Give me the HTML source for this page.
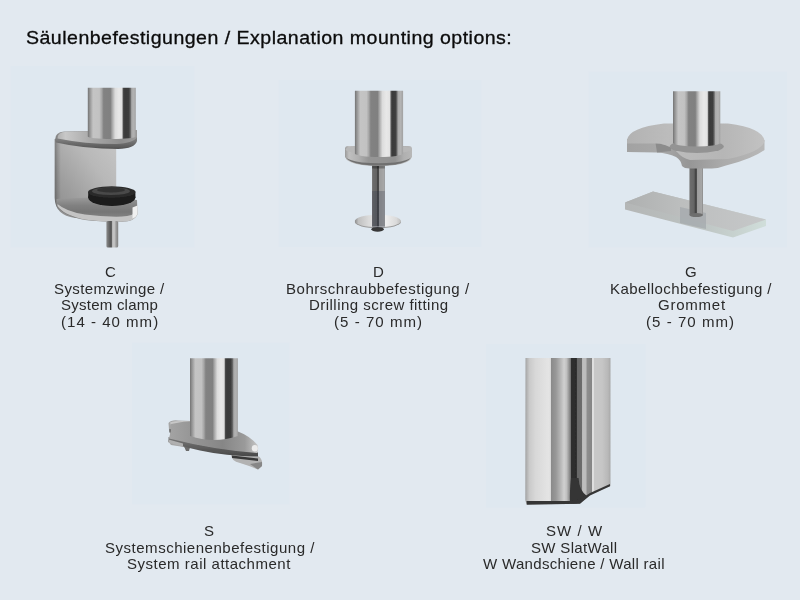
<!DOCTYPE html>
<html><head><meta charset="utf-8"><title>Säulenbefestigungen</title>
<style>
html,body{margin:0;padding:0}
body{width:800px;height:600px;background:#e2e9f0;position:relative;overflow:hidden;font-family:"Liberation Sans",sans-serif;color:#111}
.t{position:absolute;white-space:pre;line-height:20px;transform-origin:0 0}
.h{transform:scaleX(1.10);font-size:17.8px;color:#0b0b0b;-webkit-text-stroke:0.3px #0b0b0b}
.c{transform:scaleX(1.06);font-size:14.2px;color:#2a2a2a}
#art{position:absolute;left:0;top:0}
</style></head><body>
<svg id="art" width="800" height="600" viewBox="0 0 800 600">
<defs>
<filter id="soft" x="-5%" y="-5%" width="110%" height="110%"><feGaussianBlur stdDeviation="0.7"/></filter>
<filter id="soft2" x="-10%" y="-10%" width="120%" height="120%"><feGaussianBlur stdDeviation="4"/></filter>
<linearGradient id="pole" x1="0" x2="1" y1="0" y2="0">
 <stop offset="0" stop-color="#727272"/>
 <stop offset="0.03" stop-color="#8c8c8c"/>
 <stop offset="0.07" stop-color="#a8a8a8"/>
 <stop offset="0.11" stop-color="#c4c4c4"/>
 <stop offset="0.24" stop-color="#c2c2c2"/>
 <stop offset="0.29" stop-color="#a6a6a6"/>
 <stop offset="0.33" stop-color="#828282"/>
 <stop offset="0.47" stop-color="#808080"/>
 <stop offset="0.51" stop-color="#a8a8a8"/>
 <stop offset="0.57" stop-color="#dcdcdc"/>
 <stop offset="0.65" stop-color="#e8e8e8"/>
 <stop offset="0.715" stop-color="#e0e0e0"/>
 <stop offset="0.735" stop-color="#4c4c4c"/>
 <stop offset="0.77" stop-color="#3a3a3a"/>
 <stop offset="0.85" stop-color="#3c3c3c"/>
 <stop offset="0.885" stop-color="#606060"/>
 <stop offset="0.915" stop-color="#aaaaaa"/>
 <stop offset="0.96" stop-color="#b2b2b2"/>
 <stop offset="1" stop-color="#a0a0a0"/>
</linearGradient>
<linearGradient id="cback" x1="1" y1="0" x2="0" y2="1">
 <stop offset="0" stop-color="#c6c6c6"/><stop offset="0.35" stop-color="#b8b8b8"/><stop offset="0.7" stop-color="#9e9e9e"/><stop offset="1" stop-color="#8a8a8a"/>
</linearGradient>
<linearGradient id="ctop" x1="0" x2="1" y1="0" y2="0">
 <stop offset="0" stop-color="#b0b0b0"/><stop offset="0.1" stop-color="#c8c8c8"/><stop offset="0.4" stop-color="#ababab"/><stop offset="0.8" stop-color="#8e8e8e"/><stop offset="1" stop-color="#9a9a9a"/>
</linearGradient>
<linearGradient id="ctopedge" x1="0" x2="0" y1="0" y2="1">
 <stop offset="0" stop-color="#9a9a9a"/><stop offset="0.55" stop-color="#7a7a7a"/><stop offset="1" stop-color="#525252"/>
</linearGradient>
<linearGradient id="cbackv" x1="0" x2="1" y1="0" y2="0">
 <stop offset="0" stop-color="#000" stop-opacity="0.28"/><stop offset="0.05" stop-color="#000" stop-opacity="0.12"/><stop offset="0.1" stop-color="#000" stop-opacity="0"/><stop offset="1" stop-color="#000" stop-opacity="0"/>
</linearGradient>
<linearGradient id="bolt" x1="0" x2="1" y1="0" y2="0">
 <stop offset="0" stop-color="#8c8c8c"/><stop offset="0.28" stop-color="#606060"/><stop offset="0.42" stop-color="#505050"/><stop offset="0.5" stop-color="#b4b4b4"/><stop offset="0.65" stop-color="#cacaca"/><stop offset="0.82" stop-color="#9c9c9c"/><stop offset="1" stop-color="#7e7e7e"/>
</linearGradient>

<linearGradient id="poleD" x1="0" x2="1" y1="0" y2="0">
 <stop offset="0" stop-color="#727272"/>
 <stop offset="0.03" stop-color="#8c8c8c"/>
 <stop offset="0.07" stop-color="#a8a8a8"/>
 <stop offset="0.11" stop-color="#c4c4c4"/>
 <stop offset="0.24" stop-color="#c2c2c2"/>
 <stop offset="0.29" stop-color="#a6a6a6"/>
 <stop offset="0.33" stop-color="#828282"/>
 <stop offset="0.47" stop-color="#808080"/>
 <stop offset="0.51" stop-color="#a8a8a8"/>
 <stop offset="0.57" stop-color="#dcdcdc"/>
 <stop offset="0.65" stop-color="#e8e8e8"/>
 <stop offset="0.725" stop-color="#e2e2e2"/>
 <stop offset="0.75" stop-color="#585858"/>
 <stop offset="0.775" stop-color="#3a3a3a"/>
 <stop offset="0.84" stop-color="#3e3e3e"/>
 <stop offset="0.87" stop-color="#666"/>
 <stop offset="0.895" stop-color="#aaaaaa"/>
 <stop offset="0.95" stop-color="#b4b4b4"/>
 <stop offset="1" stop-color="#a0a0a0"/>
</linearGradient>
<linearGradient id="flange" x1="0" x2="1" y1="0" y2="0">
 <stop offset="0" stop-color="#9a9a9a"/><stop offset="0.06" stop-color="#c0c0c0"/><stop offset="0.2" stop-color="#b0b0b0"/><stop offset="0.35" stop-color="#969696"/><stop offset="0.75" stop-color="#929292"/><stop offset="0.88" stop-color="#b0b0b0"/><stop offset="1" stop-color="#b8b8b8"/>
</linearGradient>
<linearGradient id="rod" x1="0" x2="1" y1="0" y2="0">
 <stop offset="0" stop-color="#7c7c7c"/><stop offset="0.08" stop-color="#6c6c6c"/><stop offset="0.35" stop-color="#646464"/><stop offset="0.43" stop-color="#444"/><stop offset="0.52" stop-color="#4a4a4a"/><stop offset="0.57" stop-color="#9c9c9c"/><stop offset="0.9" stop-color="#a6a6a6"/><stop offset="1" stop-color="#888"/>
</linearGradient>
<linearGradient id="washer" x1="0" x2="1" y1="0" y2="0">
 <stop offset="0" stop-color="#8a8a8a"/><stop offset="0.08" stop-color="#c0c0c0"/><stop offset="0.3" stop-color="#dadada"/><stop offset="0.65" stop-color="#f0f0f0"/><stop offset="0.9" stop-color="#dadada"/><stop offset="1" stop-color="#bcbcbc"/>
</linearGradient>
<linearGradient id="disc" x1="0" x2="1" y1="0" y2="0">
 <stop offset="0" stop-color="#b2b2b2"/><stop offset="0.3" stop-color="#bcbcbc"/><stop offset="0.7" stop-color="#b6b6b6"/><stop offset="1" stop-color="#c2c2c2"/>
</linearGradient>
<linearGradient id="base" x1="0" x2="1" y1="0" y2="0">
 <stop offset="0" stop-color="#aeb0b0"/><stop offset="0.4" stop-color="#bcbebe"/><stop offset="1" stop-color="#c6c8c9"/>
</linearGradient>
<linearGradient id="wall" x1="0" x2="1" y1="0" y2="0">
 <stop offset="0" stop-color="#a0a0a0"/>
 <stop offset="0.02" stop-color="#b4b4b4"/>
 <stop offset="0.05" stop-color="#cacaca"/>
 <stop offset="0.12" stop-color="#d8d8d8"/>
 <stop offset="0.27" stop-color="#e4e4e4"/>
 <stop offset="0.295" stop-color="#e0e0e0"/>
 <stop offset="0.305" stop-color="#8a8a8a"/>
 <stop offset="0.36" stop-color="#989898"/>
 <stop offset="0.41" stop-color="#b4b4b4"/>
 <stop offset="0.455" stop-color="#d0d0d0"/>
 <stop offset="0.485" stop-color="#c0c0c0"/>
 <stop offset="0.51" stop-color="#9a9a9a"/>
 <stop offset="0.53" stop-color="#7c7c7c"/>
 <stop offset="0.54" stop-color="#2e2e2e"/>
 <stop offset="0.6" stop-color="#2c2c2c"/>
 <stop offset="0.61" stop-color="#686868"/>
 <stop offset="0.66" stop-color="#6c6c6c"/>
 <stop offset="0.672" stop-color="#bebebe"/>
 <stop offset="0.712" stop-color="#bcbcbc"/>
 <stop offset="0.725" stop-color="#8e8e8e"/>
 <stop offset="0.78" stop-color="#858585"/>
 <stop offset="0.787" stop-color="#dedede"/>
 <stop offset="0.8" stop-color="#e0e0e0"/>
 <stop offset="0.812" stop-color="#c8c8c8"/>
 <stop offset="0.9" stop-color="#c6c6c6"/>
 <stop offset="0.97" stop-color="#b8b8b8"/>
 <stop offset="1" stop-color="#a8a8a8"/>
</linearGradient>
<linearGradient id="discside" x1="0" x2="1" y1="0" y2="0">
 <stop offset="0" stop-color="#a2a2a2"/><stop offset="0.25" stop-color="#a8a8a8"/><stop offset="0.45" stop-color="#969696"/><stop offset="0.7" stop-color="#ababab"/><stop offset="1" stop-color="#b8b8b8"/>
</linearGradient>
<linearGradient id="sside" x1="0" x2="0" y1="0" y2="1">
 <stop offset="0" stop-color="#7a7a7a"/><stop offset="0.5" stop-color="#606060"/><stop offset="1" stop-color="#484848"/>
</linearGradient>
<linearGradient id="stop" x1="0" x2="1" y1="0" y2="0">
 <stop offset="0" stop-color="#a4a4a4"/><stop offset="0.25" stop-color="#969696"/><stop offset="0.6" stop-color="#868686"/><stop offset="0.85" stop-color="#9a9a9a"/><stop offset="1" stop-color="#c8c8c8"/>
</linearGradient>
<linearGradient id="basefront" x1="0" x2="1" y1="0" y2="0">
 <stop offset="0" stop-color="#b4b6b6"/><stop offset="0.5" stop-color="#bcc2c1"/><stop offset="1" stop-color="#d0deda"/>
</linearGradient>
<linearGradient id="clow" x1="0" x2="0" y1="0" y2="1">
 <stop offset="0" stop-color="#9c9c9c"/><stop offset="0.35" stop-color="#808080"/><stop offset="0.6" stop-color="#767676"/><stop offset="1" stop-color="#8a8a8a"/>
</linearGradient>
</defs>
<!-- background panels -->
<g filter="url(#soft)" fill="#dfe8f0">
 <rect x="10.5" y="66" width="184" height="181.5"/>
 <rect x="278.5" y="80" width="203" height="167"/>
 <rect x="588.5" y="71.5" width="198.5" height="176"/>
 <rect x="132" y="342.5" width="157.5" height="162"/>
 <rect x="486" y="344" width="159.6" height="163.6"/>
</g>
<!-- C : system clamp -->
<g filter="url(#soft)">
 <!-- back plate -->
 <path d="M54.7,139 L116.2,139 L116.2,206 L75,218 Q55,215 54.7,198 Z" fill="url(#cback)"/>
 <path d="M54.7,139 L116.2,139 L116.2,206 L75,218 Q55,215 54.7,198 Z" fill="url(#cbackv)"/>
 <!-- lower plate -->
 <path d="M56.5,199 Q80,197.5 116,197 L137,200 L137.5,214 Q135,221.5 122,221.8 Q100,222 85,220 Q64,216 57.5,207 Q56,203 56.5,199 Z" fill="url(#clow)"/>
 <path d="M57.5,206 Q63,214.5 84,219.5 Q104,222.2 124,221.6 Q134,221 137.3,215 L137.3,211 Q133,216 122,216.6 Q102,217 85,214.6 Q66,211.5 57.5,204 Z" fill="#c4c4c4"/>
 <path d="M132.5,207.5 L137.5,205.5 L137.5,214 Q136,217.5 132.5,218.5 Z" fill="#f0f0f0"/>
 <!-- knob -->
 <ellipse cx="111.8" cy="197.5" rx="23.6" ry="8.4" fill="#1c1c1c"/>
 <rect x="88.2" y="191.5" width="47.2" height="6.5" fill="#1c1c1c"/>
 <ellipse cx="111.8" cy="192" rx="23.6" ry="5.8" fill="#2c2c2c"/>
 <ellipse cx="111" cy="191.2" rx="19" ry="3.8" fill="#484848"/>
 <ellipse cx="111" cy="190" rx="14" ry="2.4" fill="#333"/>
 <!-- bolt -->
 <rect x="106.4" y="221" width="11.8" height="26.4" rx="1.5" fill="url(#bolt)"/>
 <!-- top plate -->
 <path d="M55,140 Q55,132 64,131.5 L137,130 L137,141 Q135,148.5 118,149 Q85,149 56,142.5 Z" fill="url(#ctopedge)"/>
 <path d="M57.5,138 Q57.5,132.3 66,131.7 L137,130 L137,137 Q134,143 116,144 Q85,144 57.5,138.5 Z" fill="url(#ctop)"/>
 <!-- pole -->
 <path d="M87.8,87.8 L135.8,87.8 L135.8,136.5 A24,2.5 0 0 1 87.8,136.5 Z" fill="url(#pole)"/>
</g>
<!-- D : drilling screw fitting -->
<g filter="url(#soft)">
 <!-- washer -->
 <ellipse cx="377.9" cy="222" rx="23.1" ry="6.2" fill="#9a9a9a"/>
 <ellipse cx="377.9" cy="221" rx="23.1" ry="6.2" fill="url(#washer)"/>
 <!-- nut -->
 <ellipse cx="377.6" cy="229.3" rx="6.2" ry="2.4" fill="#383838"/>
 <!-- rod -->
 <rect x="372" y="160" width="12.8" height="66.5" fill="url(#rod)"/>
 <rect x="372" y="191" width="12.8" height="36.5" fill="#2a3248" opacity="0.25"/>
 <rect x="372" y="165" width="12.8" height="3.5" fill="#000" opacity="0.3"/>
 <!-- flange -->
 <path d="M345,149 Q345,146 348,146 L409,146 Q412,146 412,149 L412,157 Q410,163 395,165 Q378.5,167 362,165 Q347,163 345,157 Z" fill="url(#flange)"/>
 <path d="M346,157.5 Q349,162.5 362,164.6 Q378.5,166.6 395,164.6 Q408,162.5 411,157.5 Q408,160.5 395,162.5 Q378.5,164 362,162.5 Q349,160.5 346,157.5 Z" fill="#707070"/>
 <ellipse cx="378.5" cy="149.6" rx="33" ry="4.6" fill="#b8b8b8"/>
 <!-- pole -->
 <path d="M354.9,90.8 L403.1,90.8 L403.1,153.5 A24.1,3.5 0 0 1 354.9,153.5 Z" fill="url(#poleD)"/>
</g>
<!-- G : grommet -->
<g filter="url(#soft)">
 <!-- base plate -->
 <path d="M625,202.6 L653,191.6 L766,219.6 L766,226 L733,237.5 L625,209.5 Z" fill="url(#basefront)"/>
 <path d="M625,202.6 L653,191.6 L766,219.6 L733,231 Z" fill="url(#base)"/>
 <path d="M680,207 L706,213 L706,229 L680,223 Z" fill="#9aa0a6" opacity="0.55"/>
 <!-- rod -->
 <rect x="689.4" y="160" width="13.6" height="55" fill="url(#rod)"/>
 <ellipse cx="696.2" cy="215" rx="6.8" ry="2" fill="#6e6e6e"/>
 <!-- disc side + hub -->
 <path d="M627,139 L627,152 L657,152.5 Q668,153 676,157 Q681,160 682,166 Q684,168.5 690,168.5 L712,168.5 Q720,168 726,165.5 Q752,159 764.5,150 L764.5,140 Z" fill="url(#discside)"/>
 <!-- notch inner wall -->
 <path d="M655.5,143 L671,146 L671,151 L657,152.5 Z" fill="#8c8c8c"/>
 <!-- disc top -->
 <path d="M627,140 Q629,127.5 664,123.5 L728,123.5 Q763,128 764.5,141 Q762,152 728,159 L690,160 Q682,158 677,152 Q672,146.5 660,143.5 L627,143.5 Z" fill="url(#disc)"/>
 <!-- shadow round pole foot -->
 <ellipse cx="696.8" cy="146.5" rx="27" ry="6.5" fill="#8a8a8a" opacity="0.8"/>
 <!-- pole -->
 <path d="M673,91.2 L720.3,91.2 L720.3,143 A23.8,4 0 0 1 673,143 Z" fill="url(#poleD)"/>
</g>
<!-- S : system rail attachment -->
<g filter="url(#soft)">
 <!-- right hook -->
 <path d="M231,454.5 L259,456.5 Q263,460 262,466 L258,469.5 Q250,466 240,463 Q231,461 231,454.5 Z" fill="#b2b2b2"/>
 <path d="M250,464 L262,462 L262,466 L258,469.5 Z" fill="#868686"/>
 <path d="M232,455.5 L258,458.5 L258,461 L232,458 Z" fill="#383838"/>
 <!-- left hook pieces -->
 <path d="M168.5,423 Q171,419.8 178,420.5 L191,421 L191,447 L187,451 L184,447 L171,445 L168,441 L171,436 L169,430 Z" fill="#a6a6a6"/>
 <path d="M170,422.5 Q176,420.5 190,421.3 L190,424 Q178,423.5 171,425 Z" fill="#c8c8c8"/>
 <path d="M169.5,429 L177,430.5 L177,433.5 L169.5,432.5 Z" fill="#4e4e4e"/>
 <path d="M184,446 L190,447 L189,451 L186,451 Z" fill="#6c6c6c"/>
 <!-- base side -->
 <path d="M168.5,437 Q200,447 258,452.5 L258,456.5 Q225,456 200,450.5 Q180,446 168.5,442 Z" fill="url(#sside)"/>
 <path d="M168.5,439.5 L183,443.5 L183,446.8 Q175,445 168.5,442.5 Z" fill="#b0b0b0"/>
 <!-- base top -->
 <path d="M171,424 Q185,420.5 200,421 L238,431.5 Q250,436 257.5,445 Q259,449 257,453 Q215,450 169,438.5 Q171,432 171,424 Z" fill="url(#stop)"/>
 <ellipse cx="254.8" cy="448.3" rx="3" ry="3.2" fill="#ececec"/>
 <!-- pole -->
 <path d="M190,358.2 L237.9,358.2 L237.9,436 Q214,444 190,436 Z" fill="url(#pole)"/>
</g>
<!-- SW / W : wall rail -->
<g filter="url(#soft)">
 <path d="M525.5,358 L610.5,358 L610.5,486 L590,495 L580,503.5 L526.5,504.5 L525.3,500 Z" fill="url(#wall)"/>
 <path d="M571,478 L578.6,478 Q579,491 587.5,496.5 L580,502.5 L570,502.5 Q569.5,492 571,478 Z" fill="#343434"/>
 <path d="M526.5,501 L572,501 L580,499.5 L590,493 L610,484 L610,486.2 L590,495.6 L580,503.8 L526.8,504.7 Z" fill="#363636"/>
</g>
</svg>

<div class="t h" style="left:26.1px;top:27.9px;letter-spacing:0.43px">Säulenbefestigungen / Explanation mounting options:</div>
<div class="t c" style="left:104.6px;top:262.3px;letter-spacing:0.00px">C</div>
<div class="t c" style="left:53.5px;top:278.8px;letter-spacing:0.35px">Systemzwinge /</div>
<div class="t c" style="left:60.7px;top:295.3px;letter-spacing:0.21px">System clamp</div>
<div class="t c" style="left:61.1px;top:312.0px;letter-spacing:0.95px">(14 - 40 mm)</div>
<div class="t c" style="left:372.6px;top:262.3px;letter-spacing:0.00px">D</div>
<div class="t c" style="left:286.1px;top:278.8px;letter-spacing:0.48px">Bohrschraubbefestigung /</div>
<div class="t c" style="left:309.0px;top:295.3px;letter-spacing:0.43px">Drilling screw fitting</div>
<div class="t c" style="left:334.3px;top:312.0px;letter-spacing:0.98px">(5 - 70 mm)</div>
<div class="t c" style="left:684.6px;top:262.3px;letter-spacing:0.00px">G</div>
<div class="t c" style="left:610.1px;top:278.8px;letter-spacing:0.42px">Kabellochbefestigung /</div>
<div class="t c" style="left:657.9px;top:295.3px;letter-spacing:0.70px">Grommet</div>
<div class="t c" style="left:646.3px;top:312.0px;letter-spacing:0.98px">(5 - 70 mm)</div>
<div class="t c" style="left:204.0px;top:520.7px;letter-spacing:0.00px">S</div>
<div class="t c" style="left:104.7px;top:537.8px;letter-spacing:0.47px">Systemschienenbefestigung /</div>
<div class="t c" style="left:126.6px;top:554.3px;letter-spacing:0.47px">System rail attachment</div>
<div class="t c" style="left:545.5px;top:520.7px;letter-spacing:0.97px">SW / W</div>
<div class="t c" style="left:530.5px;top:537.8px;letter-spacing:0.29px">SW SlatWall</div>
<div class="t c" style="left:483.1px;top:554.3px;letter-spacing:0.28px">W Wandschiene / Wall rail</div>
</body></html>
